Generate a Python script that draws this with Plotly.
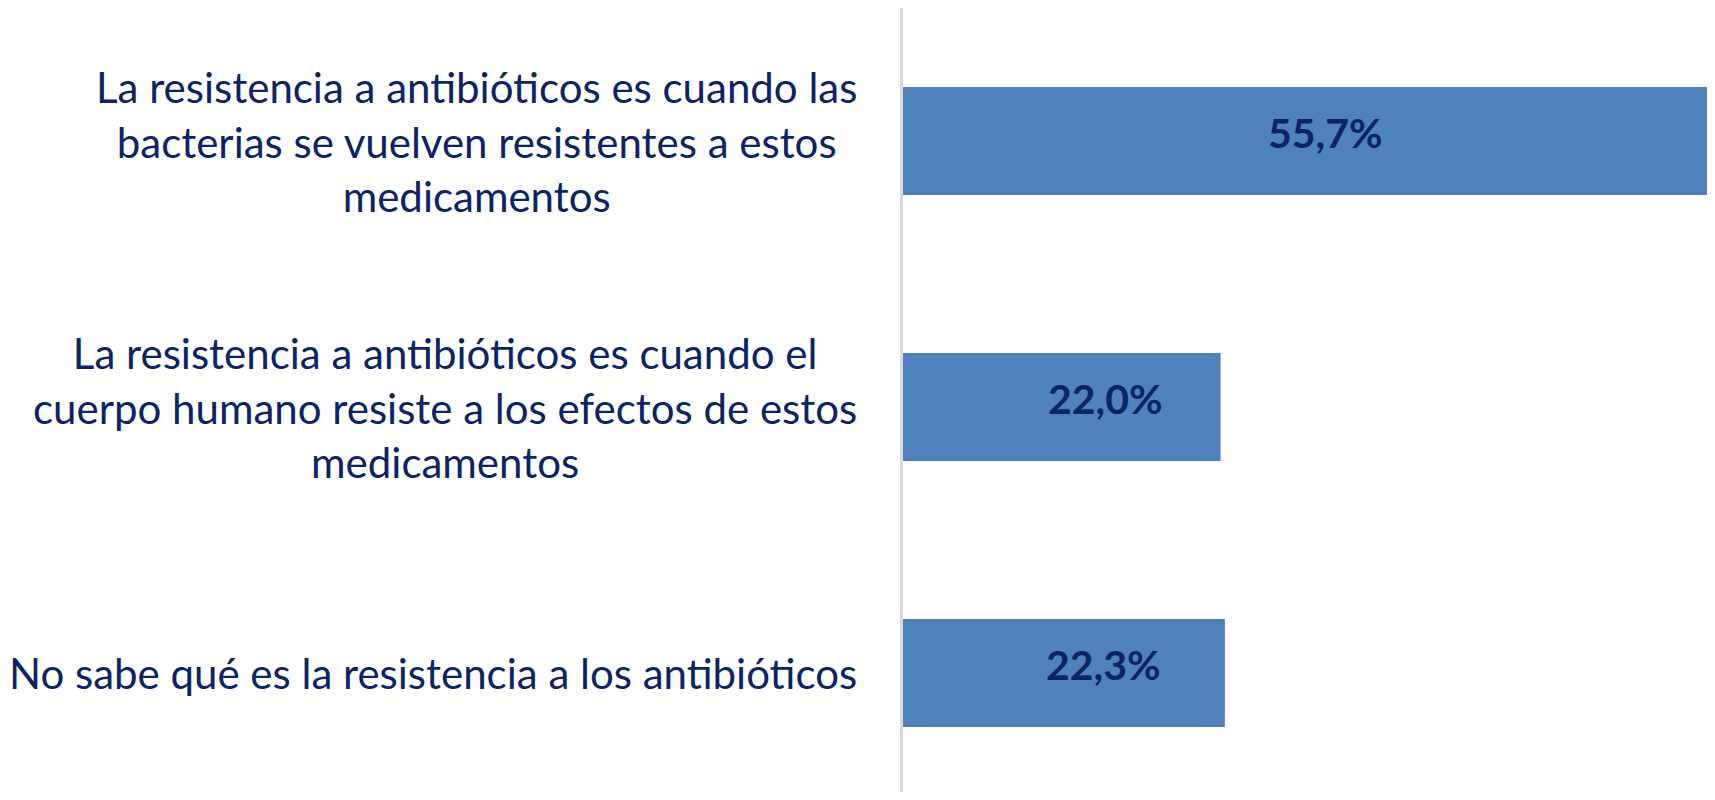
import plotly.graph_objects as go

categories = [
    "La resistencia a antibióticos es cuando las<br>bacterias se vuelven resistentes a estos<br>medicamentos",
    "La resistencia a antibióticos es cuando el<br>cuerpo humano resiste a los efectos de estos<br>medicamentos",
    "No sabe qué es la resistencia a los antibióticos",
]
values = [55.7, 22.0, 22.3]
value_labels = ["55,7%", "22,0%", "22,3%"]

label_xshift = [20, 44, 40]

TEXT = "#0B2466"
BAR = "#4F81BD"
FONT = "Lato"

fig = go.Figure(
    go.Bar(
        x=values,
        y=categories,
        orientation="h",
        marker=dict(color=BAR, line=dict(width=0)),
        hoverinfo="skip",
    )
)

for cat, v in zip(categories, values):
    fig.add_annotation(
        x=0, y=cat, xref="x", yref="y",
        text=cat, showarrow=False,
        xanchor="right", yanchor="middle", align="center",
        xshift=-44,
        font=dict(family=FONT, size=42, color=TEXT),
    )

for cat, v, lab, xs in zip(categories, values, value_labels, label_xshift):
    fig.add_annotation(
        x=v / 2, y=cat, xref="x", yref="y",
        text="<b>" + lab + "</b>", showarrow=False,
        xanchor="center", yanchor="middle",
        xshift=xs, yshift=9,
        font=dict(family=FONT, size=41, color=TEXT),
    )

fig.update_layout(
    width=1699, height=784,
    margin=dict(l=895, r=0, t=0, b=0),
    paper_bgcolor="white", plot_bgcolor="white",
    bargap=0.594,
    showlegend=False,
    xaxis=dict(range=[0, 55.7], visible=False, showgrid=False, zeroline=False),
    yaxis=dict(
        type="category",
        range=[2.447, -0.5],
        showticklabels=False, ticks="",
        showgrid=False, zeroline=False,
        showline=True, linecolor="#D9D9D9", linewidth=3,
    ),
)

fig.write_html("out.html")
